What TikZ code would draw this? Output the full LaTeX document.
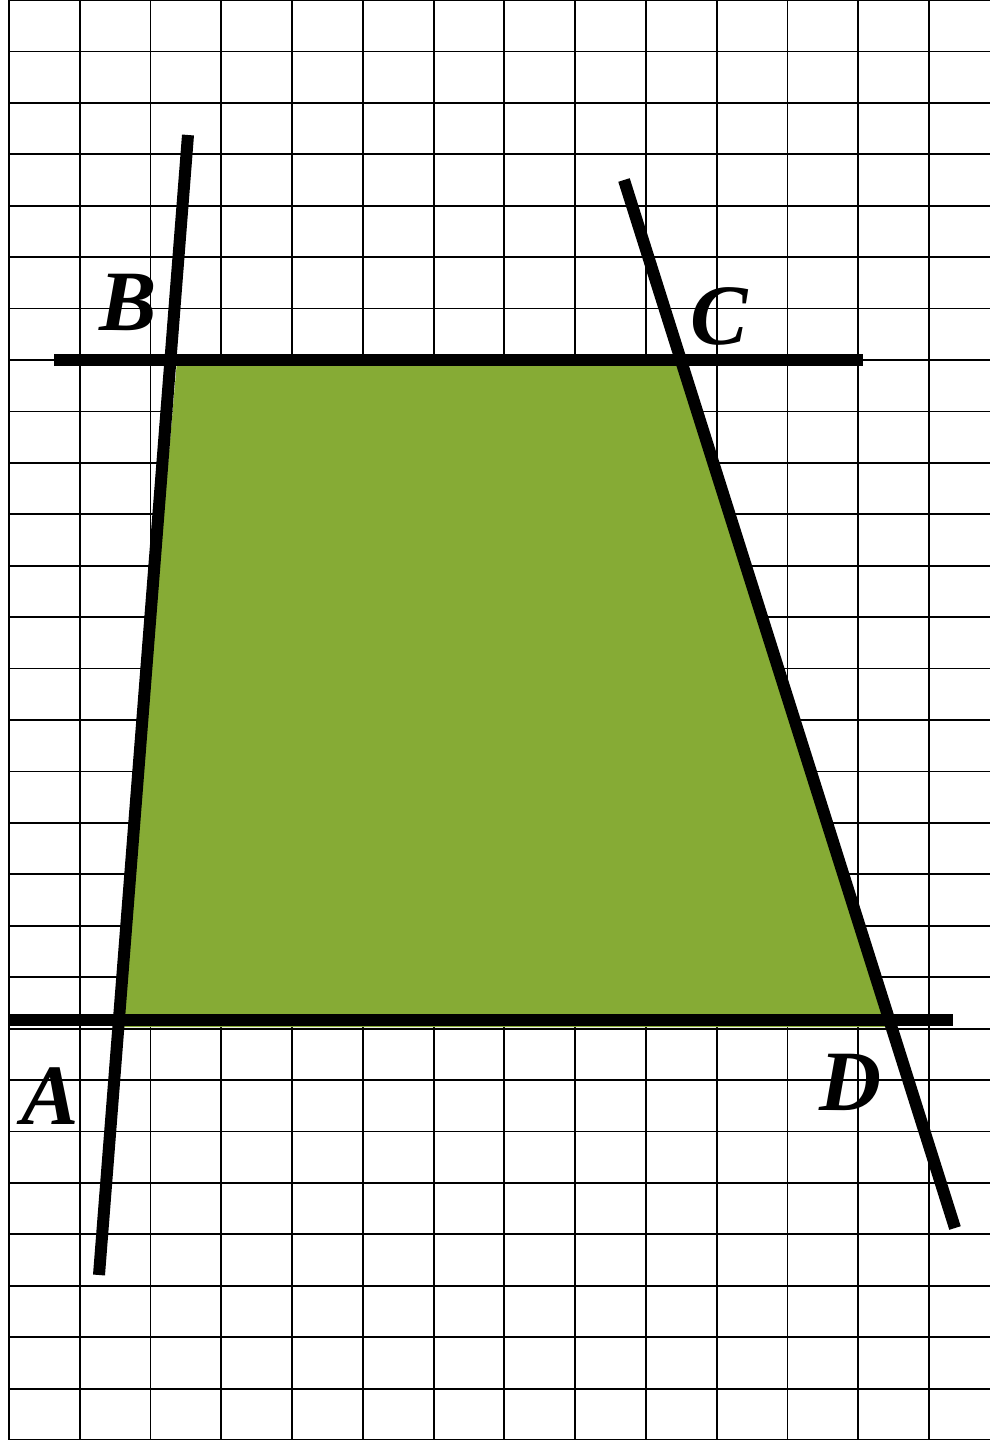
\documentclass[tikz,border=0pt]{standalone}
\usepackage{fontspec}
\setmainfont{Liberation Serif}
\begin{document}
\begin{tikzpicture}[x=1pt,y=-1pt,
  gridline/.style={line width=1.8pt,black},
  thickline/.style={line width=12pt,black},
  region/.style={fill={rgb,255:red,134;green,171;blue,53}},
  ptlabel/.style={inner sep=0pt,font=\fontsize{86}{90}\selectfont\bfseries\itshape}]
\useasboundingbox (0,0) rectangle (990,1440);
\fill[white] (0,0) rectangle (990,1440);
% grid
\foreach \k in {0,...,13} \draw[gridline] ({9+70.77*\k},0) -- ({9+70.77*\k},1440);
\foreach \j in {0,...,28} \draw[gridline] (9,{51.43*\j}) -- (990,{51.43*\j});
% green trapezoid
\fill[region] (177,361) -- (681,361) -- (886,1027) -- (119,1027) -- cycle;
% line ends
\coordinate (ab1) at (188,135);
\coordinate (ab2) at (99,1275);
\coordinate (cd1) at (624,180);
\coordinate (cd2) at (955,1228);
\coordinate (bc1) at (54,360);
\coordinate (bc2) at (863,360);
\coordinate (ad1) at (9,1020);
\coordinate (ad2) at (953,1020);
\draw[thickline] (ab1) -- (ab2);
\draw[thickline] (cd1) -- (cd2);
\draw[thickline] (bc1) -- (bc2);
\draw[thickline] (ad1) -- (ad2);
% labels
\node[ptlabel] (B) at (128,302) {B};
\node[ptlabel] (C) at (719,316) {C};
\node[ptlabel] (A) at (50,1096) {A};
\node[ptlabel] (D) at (851,1082) {D};
\end{tikzpicture}
\end{document}
